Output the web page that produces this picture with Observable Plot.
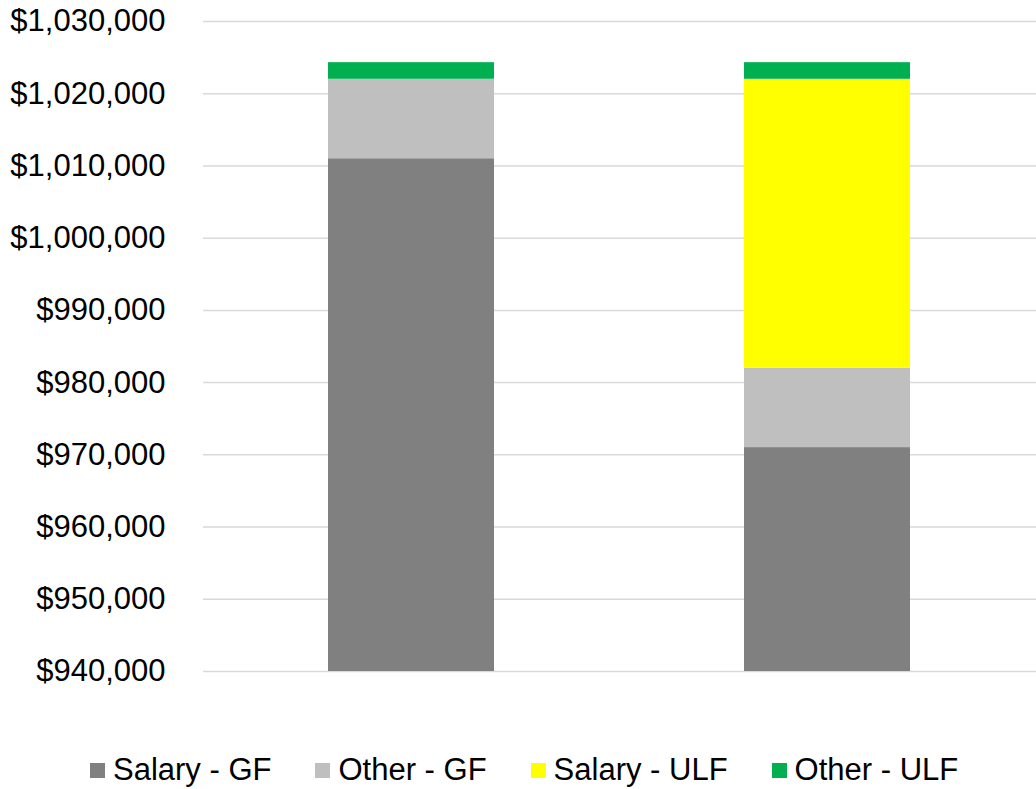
<!DOCTYPE html>
<html>
<head>
<meta charset="utf-8">
<script src="https://cdn.jsdelivr.net/npm/d3@7"></script>
<script src="https://cdn.jsdelivr.net/npm/@observablehq/plot@0.6"></script>
<style>
  html, body { margin: 0; padding: 0; background: #fff; }
  body { width: 1036px; height: 789px; position: relative; font-family: "Liberation Sans", Arial, sans-serif; }
  #legend { position: absolute; left: 90px; top: 752px; display: flex; align-items: center; font-size: 31px; color: #000; line-height: 36px; }
  .item { display: flex; align-items: center; margin-right: 44px; }
  .item:last-child { margin-right: 0; }
  .sw { width: 15px; height: 15px; margin-right: 8px; }
</style>
</head>
<body>
<div id="chart"></div>
<div id="legend"></div>
<script>
const categories = ["Scenario 1", "Scenario 2"];
const seriesNames = ["Salary - GF", "Other - GF", "Salary - ULF", "Other - ULF"];
const salaryGF = [1011000, 971000];
const otherGF = [11000, 11000];
const salaryULF = [0, 40000];
const otherULF = [2300, 2300];
const colors = ["#808080", "#bfbfbf", "#ffff00", "#00b050"];
const yTicks = [940000, 950000, 960000, 970000, 980000, 990000, 1000000, 1010000, 1020000, 1030000];

const seriesValues = [salaryGF, otherGF, salaryULF, otherULF];
const data = [];
seriesNames.forEach((s, i) => {
  categories.forEach((c, j) => {
    data.push({category: c, series: s, value: seriesValues[i][j]});
  });
});

const fmt = d => "$" + d3.format(",")(d);

const chart = Plot.plot({
  width: 1036,
  height: 700,
  marginLeft: 203,
  marginRight: 0,
  marginTop: 21,
  marginBottom: 29,
  style: {fontFamily: "'Liberation Sans', Arial, sans-serif", fontSize: "31px", color: "#000", background: "#fff"},
  x: {domain: categories, paddingInner: 0.6, paddingOuter: 0.3, axis: null},
  y: {domain: [940000, 1030000], ticks: yTicks, tickFormat: fmt, label: null},
  color: {domain: seriesNames, range: colors},
  marks: [
    Plot.gridY(yTicks, {stroke: "#d9d9d9", strokeOpacity: 1, strokeWidth: 1.5}),
    Plot.barY(data, Plot.stackY({
      x: "category", y: "value", fill: "series", order: seriesNames, clip: true
    })),
    Plot.axisY(yTicks, {tickSize: 0, tickPadding: 38, tickFormat: fmt, fontSize: 31, fill: "#000", label: null})
  ]
});
document.getElementById("chart").appendChild(chart);

const legend = document.getElementById("legend");
seriesNames.forEach((s, i) => {
  const item = document.createElement("div");
  item.className = "item";
  const sw = document.createElement("span");
  sw.className = "sw";
  sw.style.background = colors[i];
  const t = document.createElement("span");
  t.textContent = s;
  item.appendChild(sw);
  item.appendChild(t);
  legend.appendChild(item);
});
</script>
</body>
</html>
